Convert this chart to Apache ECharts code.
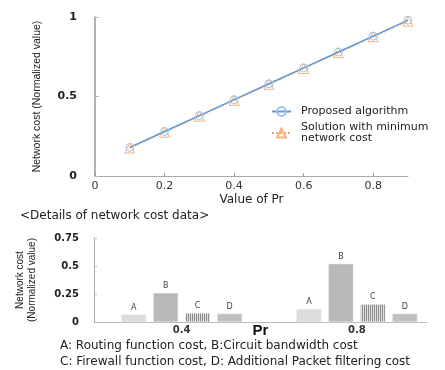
<!DOCTYPE html>
<html>
<head>
<meta charset="utf-8">
<script src="https://cdn.jsdelivr.net/npm/echarts@6/dist/echarts.min.js"></script>
<style>html,body{margin:0;padding:0;background:#fff}#c{width:445px;height:370px}</style>
</head>
<body>
<div id="c"></div>
<script>
// ---- Top chart data ----
const prValues = [0.1, 0.2, 0.3, 0.4, 0.5, 0.6, 0.7, 0.8, 0.9];
const proposedCost = [0.18, 0.28, 0.38, 0.48, 0.58, 0.68, 0.78, 0.88, 0.98];
const minimumCost = [0.176, 0.276, 0.376, 0.476, 0.576, 0.676, 0.776, 0.876, 0.974];
const topXTicks = [0, 0.2, 0.4, 0.6, 0.8];
const seriesNames = ['Proposed algorithm', 'Solution with minimum\nnetwork cost'];

// ---- Bottom chart data ----
const detailPr = [0.4, 0.8];
const costA = [0.066, 0.116];
const costB = [0.26, 0.52];
const costC = [0.08, 0.158];
const costD = [0.075, 0.075];
const barLetters = ['A', 'B', 'C', 'D'];
const noteLines = ['A: Routing function cost, B:Circuit bandwidth cost',
                   'C: Firewall function cost, D: Additional Packet filtering cost'];

const FONT = 'DejaVu Sans, Verdana, sans-serif';
const ARIAL = 'Liberation Sans, Arial, sans-serif';

// stripe pattern for C
const pc = document.createElement('canvas');
pc.width = 2; pc.height = 4;
const pctx = pc.getContext('2d');
pctx.fillStyle = '#e2e2e2'; pctx.fillRect(0, 0, 2, 4);
pctx.fillStyle = '#8a8a8a'; pctx.fillRect(0, 0, 1, 4);

const chart = echarts.init(document.getElementById('c'), null, {renderer: 'canvas'});

function pairs(xs, ys) { return xs.map((x, i) => [x, ys[i]]); }

const barColors = ['#dcdcdc', '#b9b9b9', {image: pc, repeat: 'repeat'}, '#c0c0c0'];
const barData = [costA, costB, costC, costD];

const barSeries = barData.map((vals, i) => ({
  type: 'bar', xAxisIndex: 1, yAxisIndex: 1,
  name: barLetters[i],
  data: pairs(detailPr, vals),
  barWidth: 25, barGap: '28%',
  itemStyle: {color: barColors[i], borderColor: '#e6e6e6', borderWidth: 0.5},
  label: {show: true, position: 'top', distance: 3, formatter: barLetters[i],
          fontSize: 8, color: '#444', fontFamily: FONT},
  silent: true, animation: false
}));

chart.setOption({
  animation: false,
  textStyle: {fontFamily: FONT},
  grid: [
    {left: 95, top: 17, right: 37, bottom: 194},
    {left: 94, top: 238, right: 18, bottom: 48}
  ],
  legend: {
    data: seriesNames,
    orient: 'vertical', left: 266, top: 101,
    itemWidth: 19, itemHeight: 11, itemGap: 5,
    textStyle: {fontSize: 11, color: '#222', fontFamily: FONT, lineHeight: 11, padding: [0, 0, 0, 5]}
  },
  xAxis: [
    {type: 'value', gridIndex: 0, min: 0, max: 0.9, interval: 0.2,
     name: 'Value of Pr', nameLocation: 'middle', nameGap: 18,
     nameTextStyle: {fontSize: 12, color: '#222', fontFamily: FONT},
     axisLine: {lineStyle: {color: '#aaa', width: 1}},
     axisTick: {show: true, inside: true, length: 3, lineStyle: {color: '#999'}, customValues: topXTicks},
     axisLabel: {customValues: topXTicks, fontSize: 11, color: '#333', margin: 5, fontFamily: FONT},
     splitLine: {show: false}},
    {type: 'value', gridIndex: 1, min: 0.2, max: 0.96,
     name: 'Pr', nameLocation: 'middle', nameGap: 1, nameMoveOverlap: false,
     nameTextStyle: {fontSize: 15, fontWeight: 'bold', color: '#111', fontFamily: ARIAL},
     axisLine: {lineStyle: {color: '#bbb', width: 1}},
     axisTick: {show: false},
     axisLabel: {customValues: detailPr, fontSize: 10, fontWeight: 'bold', color: '#333', margin: 3, fontFamily: FONT},
     splitLine: {show: false}}
  ],
  yAxis: [
    {type: 'value', gridIndex: 0, min: 0, max: 1, interval: 0.5,
     name: 'Network cost (Normalized value)', nameLocation: 'middle', nameGap: 52, nameRotate: 90,
     nameTextStyle: {fontSize: 10.5, color: '#222', fontFamily: ARIAL},
     axisLine: {show: true, lineStyle: {color: '#999', width: 1.5}},
     axisTick: {show: true, inside: true, length: 4, lineStyle: {color: '#bbb'}},
     axisLabel: {fontSize: 11, color: '#222', fontWeight: 'bold', margin: 18, fontFamily: FONT},
     splitLine: {show: false}},
    {type: 'value', gridIndex: 1, min: 0, max: 0.75, interval: 0.25,
     name: 'Network cost\n(Normalized value)', nameLocation: 'middle', nameGap: 56, nameRotate: 90,
     nameTextStyle: {fontSize: 10, color: '#222', fontFamily: ARIAL, lineHeight: 12},
     axisLine: {show: true, lineStyle: {color: '#aaa', width: 1}},
     axisTick: {show: true, inside: true, length: 3, lineStyle: {color: '#bbb'}},
     axisLabel: {fontSize: 10, color: '#222', fontWeight: 'bold', margin: 15, fontFamily: FONT},
     splitLine: {show: false}}
  ],
  graphic: [
    {type: 'text', left: 20, top: 210,
     style: {text: '<Details of network cost data>', font: '12px ' + FONT, fill: '#222'}},
    {type: 'text', left: 60, top: 340,
     style: {text: noteLines[0], font: '12px ' + FONT, fill: '#222'}},
    {type: 'text', left: 60, top: 356,
     style: {text: noteLines[1], font: '12px ' + FONT, fill: '#222'}}
  ],
  series: [
    {type: 'line', name: seriesNames[0], xAxisIndex: 0, yAxisIndex: 0,
     data: pairs(prValues, proposedCost),
     symbol: 'circle', symbolSize: 8, showAllSymbol: true,
     lineStyle: {color: '#5b9bd5', width: 1.5},
     itemStyle: {color: 'rgba(255,255,255,0)', borderColor: '#9dc3e6', borderWidth: 1},
     z: 3},
    {type: 'line', name: seriesNames[1], xAxisIndex: 0, yAxisIndex: 0,
     data: pairs(prValues, minimumCost),
     symbol: 'triangle', symbolSize: 10, showAllSymbol: true,
     lineStyle: {color: '#f4a46a', width: 1.5, type: 'dotted'},
     itemStyle: {color: 'rgba(255,255,255,0)', borderColor: '#f4b183', borderWidth: 1},
     z: 2}
  ].concat(barSeries)
});
</script>
</body>
</html>
